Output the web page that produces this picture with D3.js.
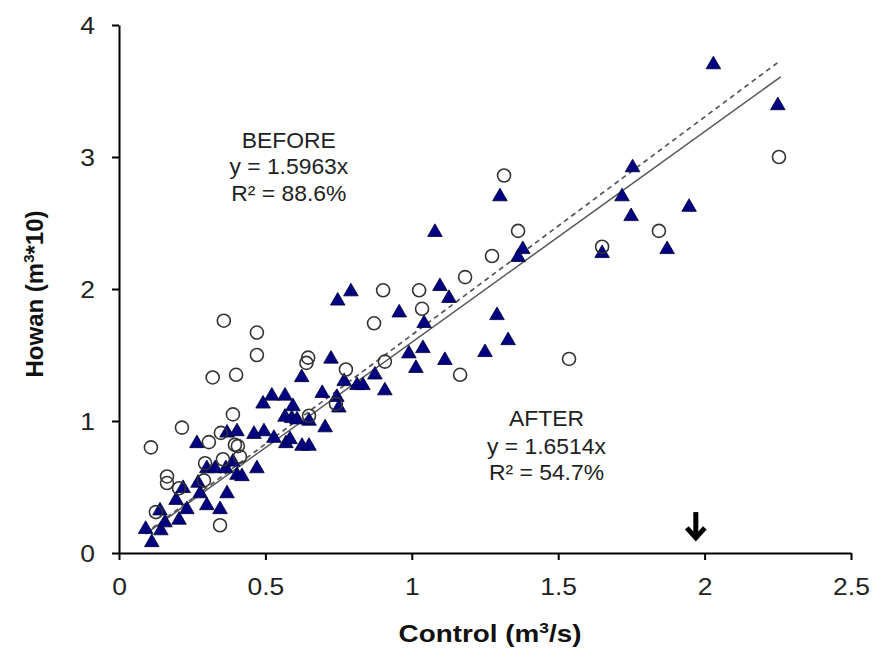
<!DOCTYPE html>
<html>
<head>
<meta charset="utf-8">
<script src="https://cdn.jsdelivr.net/npm/d3@7"></script>
<style>
  body { margin: 0; background: #fff; }
  svg text { font-family: "Liberation Sans", Arial, sans-serif; }
</style>
</head>
<body>
<div id="chart"></div>
<script>
// BEFORE (open circles): [control, howan]
const beforeX = [0.109, 0.164, 0.164, 0.126, 0.205, 0.215, 0.307, 0.348, 0.389, 0.396, 0.406, 0.413,
  0.355, 0.294, 0.290, 0.345, 0.320, 0.400, 0.358, 0.471, 0.471, 0.646, 0.640, 0.775, 0.908, 0.871,
  1.035, 0.741, 0.649, 1.165, 1.315, 1.363, 1.274, 1.182, 1.025, 1.537, 0.902, 1.650, 2.254, 1.844];
const beforeY = [0.80, 0.58, 0.53, 0.31, 0.49, 0.95, 0.84, 0.91, 1.05, 0.82, 0.81, 0.73,
  0.71, 0.68, 0.55, 0.21, 1.33, 1.35, 1.76, 1.67, 1.50, 1.48, 1.44, 1.39, 1.45, 1.74,
  1.85, 1.13, 1.04, 1.35, 2.86, 2.44, 2.25, 2.09, 1.99, 1.47, 1.99, 2.32, 3.00, 2.44];

// AFTER (filled triangles)
const afterX = [0.091, 0.112, 0.143, 0.157, 0.140, 0.205, 0.195, 0.232, 0.277, 0.300, 0.345, 0.369,
  0.270, 0.219, 0.266, 0.369, 0.403, 0.461, 0.495, 0.529, 0.492, 0.522, 0.300, 0.328, 0.365, 0.389,
  0.403, 0.420, 0.471, 0.747, 0.792, 0.957, 1.042, 0.724, 0.624, 0.990, 1.038, 1.014, 1.113, 0.874,
  0.908, 0.769, 0.813, 0.833, 0.694, 0.744, 0.751, 0.567, 0.594, 0.567, 0.590, 0.608, 0.649, 0.704,
  0.570, 0.584, 0.625, 0.649, 1.301, 1.079, 1.379, 1.363, 1.096, 1.127, 1.291, 1.329, 1.250,
  2.030, 2.250, 1.754, 1.718, 1.749, 1.947, 1.872, 1.650];
const afterY = [0.18, 0.08, 0.17, 0.23, 0.32, 0.25, 0.40, 0.33, 0.45, 0.36, 0.33, 0.45,
  0.53, 0.49, 0.83, 0.91, 0.92, 0.90, 0.92, 0.87, 1.13, 1.19, 0.64, 0.64, 0.64, 0.69,
  0.59, 0.58, 0.64, 1.91, 1.98, 1.82, 1.74, 1.47, 1.33, 1.51, 1.55, 1.40, 1.46, 1.35,
  1.23, 1.30, 1.27, 1.27, 1.21, 1.18, 1.10, 1.19, 1.11, 1.03, 1.02, 1.01, 1.00, 0.95,
  0.83, 0.86, 0.81, 0.81, 2.70, 2.43, 2.30, 2.24, 2.02, 1.93, 1.80, 1.61, 1.52,
  3.70, 3.39, 2.92, 2.70, 2.55, 2.62, 2.30, 2.27];

const xTicks = [0, 0.5, 1, 1.5, 2, 2.5];
const yTicks = [0, 1, 2, 3, 4];
const slopeBefore = 1.5963;
const slopeAfter = 1.6514;
const lineRange = [0.09, 2.26];
const arrowX = 1.97;

const margin = { top: 25, right: 22, bottom: 102, left: 119 },
  width = 873 - margin.left - margin.right,
  height = 655 - margin.top - margin.bottom;

const svg = d3.select("#chart")
  .append("svg")
  .attr("width", 873)
  .attr("height", 655)
  .append("g")
  .attr("transform", `translate(${margin.left},${margin.top})`);

const x = d3.scaleLinear().domain([0, 2.5]).range([0, width]);
const y = d3.scaleLinear().domain([0, 4]).range([height, 0]);

// axes
const xAxis = svg.append("g")
  .attr("transform", `translate(0,${height})`)
  .call(d3.axisBottom(x).tickValues(xTicks).tickFormat(d3.format("")).tickSize(7).tickSizeOuter(0));
const yAxis = svg.append("g")
  .call(d3.axisLeft(y).tickValues(yTicks).tickFormat(d3.format("")).tickSize(7).tickSizeOuter(0));

[xAxis, yAxis].forEach(a => {
  a.select(".domain").attr("stroke", "#000").attr("stroke-width", 2);
  a.selectAll(".tick line").attr("stroke", "#000").attr("stroke-width", 2);
  a.selectAll(".tick text")
    .attr("fill", "#222")
    .style("font-size", "23px")
    .attr("x", 0).attr("y", 0).attr("dy", 0);
});
// the reference text is a bit wider than tall
xAxis.selectAll(".tick text").attr("transform", "translate(0,42) scale(1.15,1)");
yAxis.selectAll(".tick text").attr("transform", "translate(-24,8) scale(1.15,1)");

// regression lines
const lineGen = d3.line().x(d => x(d[0])).y(d => y(d[1]));
svg.append("path")
  .datum(lineRange.map(v => [v, v * slopeBefore]))
  .attr("fill", "none")
  .attr("stroke", "#555")
  .attr("stroke-width", 1.5)
  .attr("d", lineGen);
svg.append("path")
  .datum(lineRange.map(v => [v, v * slopeAfter]))
  .attr("fill", "none")
  .attr("stroke", "#555")
  .attr("stroke-width", 1.7)
  .attr("stroke-dasharray", "5,4")
  .attr("d", lineGen);

// AFTER triangles
const tri = d3.symbol().type(d3.symbolTriangle).size(92);
svg.append("g").selectAll("path")
  .data(afterX.map((v, i) => [v, afterY[i]]))
  .join("path")
  .attr("d", tri)
  .attr("transform", d => `translate(${x(d[0])},${y(d[1])})`)
  .attr("fill", "#000080")
  .attr("stroke", "#000033")
  .attr("stroke-width", 0.8);

// BEFORE circles
svg.append("g").selectAll("circle")
  .data(beforeX.map((v, i) => [v, beforeY[i]]))
  .join("circle")
  .attr("cx", d => x(d[0]))
  .attr("cy", d => y(d[1]))
  .attr("r", 6.5)
  .attr("fill", "none")
  .attr("stroke", "#333")
  .attr("stroke-width", 1.6);

// annotations
const ann = [
  { t: "BEFORE", cx: 0.58, cy: 3.13 },
  { t: "y = 1.5963x", cx: 0.58, cy: 2.93 },
  { t: "R² = 88.6%", cx: 0.58, cy: 2.73 },
  { t: "AFTER", cx: 1.46, cy: 1.02 },
  { t: "y = 1.6514x", cx: 1.46, cy: 0.81 },
  { t: "R² = 54.7%", cx: 1.46, cy: 0.61 }
];
svg.append("g").selectAll("text")
  .data(ann)
  .join("text")
  .attr("transform", d => `translate(${x(d.cx)},${y(d.cy) + 8}) scale(1.04,1)`)
  .attr("text-anchor", "middle")
  .attr("fill", "#222")
  .style("font-size", "22px")
  .text(d => d.t);

// arrow marker
const ax = x(arrowX), ay0 = y(0.31), ay1 = y(0.1);
svg.append("path")
  .attr("d", `M${ax},${ay0} L${ax},${ay1 - 6}`)
  .attr("stroke", "#000")
  .attr("stroke-width", 5);
svg.append("path")
  .attr("d", `M${ax - 9},${ay1 - 12} L${ax},${ay1 - 2} L${ax + 9},${ay1 - 12}`)
  .attr("fill", "none")
  .attr("stroke", "#000")
  .attr("stroke-width", 5)
  .attr("stroke-linejoin", "miter");

// axis titles
const xt = svg.append("text")
  .attr("transform", `translate(${width / 2 + 5},${height + 89}) scale(1.16,1)`)
  .attr("text-anchor", "middle")
  .style("font-size", "24px")
  .style("font-weight", "bold")
  .attr("fill", "#111");
xt.append("tspan").text("Control (m");
xt.append("tspan").attr("dy", -9).style("font-size", "15px").text("3");
xt.append("tspan").attr("dy", 9).text("/s)");

const yt = svg.append("text")
  .attr("transform", `translate(${-76},${height / 2 + 5}) rotate(-90)`)
  .attr("text-anchor", "middle")
  .style("font-size", "24px")
  .style("font-weight", "bold")
  .attr("fill", "#111");
yt.append("tspan").text("Howan (m");
yt.append("tspan").attr("dy", -9).style("font-size", "15px").text("3");
yt.append("tspan").attr("dy", 9).text("*10)");
</script>
</body>
</html>
